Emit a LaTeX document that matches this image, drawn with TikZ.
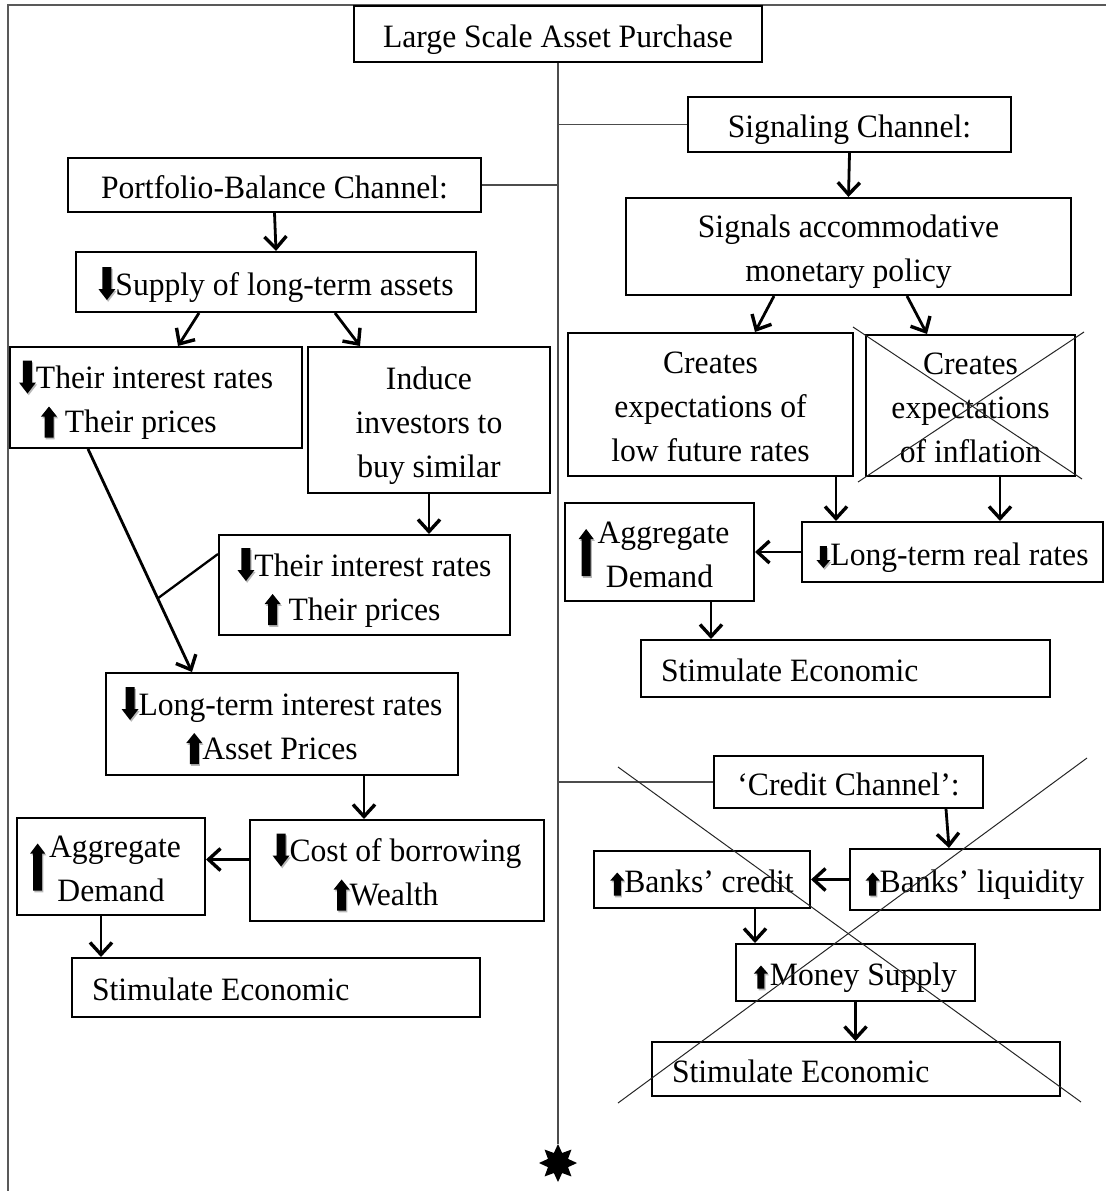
\documentclass[tikz,border=0pt]{standalone}
\usepackage{fontspec}
\setmainfont{Liberation Serif}[FakeStretch=0.97]
\usetikzlibrary{arrows.meta,calc,shapes.geometric}

\newcommand{\DnIcon}[5]{%
\tikz[baseline=0pt,x=1pt,y=1pt]{%
\path[use as bounding box] (-#4/2,#1) rectangle (#4/2,#2);
\fill[black!28,xshift=1.2pt,yshift=-1.8pt] (-#3/2,#2) -- (#3/2,#2) -- (#3/2,#1+#5) -- (#4/2,#1+#5) -- (0,#1) -- (-#4/2,#1+#5) -- (-#3/2,#1+#5) -- cycle;
\fill[black] (-#3/2,#2) -- (#3/2,#2) -- (#3/2,#1+#5) -- (#4/2,#1+#5) -- (0,#1) -- (-#4/2,#1+#5) -- (-#3/2,#1+#5) -- cycle;}}
\newcommand{\UpIcon}[5]{%
\tikz[baseline=0pt,x=1pt,y=1pt]{%
\path[use as bounding box] (-#4/2,#1) rectangle (#4/2,#2);
\fill[black!28,xshift=1.2pt,yshift=-1.8pt] (-#3/2,#1) -- (#3/2,#1) -- (#3/2,#2-#5) -- (#4/2,#2-#5) -- (0,#2) -- (-#4/2,#2-#5) -- (-#3/2,#2-#5) -- cycle;
\fill[black] (-#3/2,#1) -- (#3/2,#1) -- (#3/2,#2-#5) -- (#4/2,#2-#5) -- (0,#2) -- (-#4/2,#2-#5) -- (-#3/2,#2-#5) -- cycle;}}
\newcommand{\dnA}{\smash{\DnIcon{-5}{28}{9}{17}{11}}}
\newcommand{\upA}{\smash{\UpIcon{-5}{26}{9}{16}{10}}}
\newcommand{\dnS}{\smash{\DnIcon{-3}{19}{7}{14}{8}}}
\newcommand{\upS}{\smash{\UpIcon{-3}{20}{7}{14}{8}}}
\newcommand{\upB}{\smash{\UpIcon{-33}{14}{9}{15}{10}}}
\newcommand{\bxstrut}{\rule[-9pt]{0pt}{44pt}}

\tikzset{
  box/.style={draw, line width=2pt, inner sep=0pt, align=flush center,
    font=\fontsize{32.6}{44}\selectfont,
    execute at begin node=\bxstrut, execute at end node=\bxstrut},
  bx/.style 2 args={box, text width=#1, minimum width=#1, minimum height=#2},
  arr/.style={line width=2.8pt, -{Straight Barb[length=12pt,width=22pt,line width=3.4pt]}},
  plainln/.style={line width=2.3pt},
  spine/.style={line width=1.3pt, draw=black!70},
  frame/.style={line width=1.3pt, draw=black!65},
  xline/.style={line width=1pt, draw=black!85},
}

\begin{document}
\begin{tikzpicture}[x=1pt,y=-1pt]
\useasboundingbox (0,0) rectangle (1106,1191);
\draw[frame] (8,1191) -- (8,5) -- (1106,5);

% boxes
\node[bx={408pt}{56pt}] (large) at (558,34) {Large Scale Asset Purchase};
\node[bx={323pt}{55pt}] (sig) at (849.5,124.5) {Signaling Channel:};
\node[bx={413pt}{54pt}] (pb) at (274.5,185) {Portfolio-Balance Channel:};
\node[bx={400pt}{60pt}] (supply) at (276,282) {\dnA Supply of long-term assets};
\node[bx={445pt}{97pt}] (signals) at (848.5,246.5) {Signals accommodative\\monetary policy};
\node[box, minimum width=292pt, minimum height=101pt, text width=274pt, align=flush left] (tir1) at (156,397.5) {\dnA Their interest rates\\\hspace*{22pt}\upA\ Their prices};
\node[bx={242pt}{146pt}] (induce) at (429,420) {Induce\\investors to\\buy similar};
\node[bx={285pt}{143pt}] (clow) at (710.5,404.5) {Creates\\expectations of\\low future rates};
\node[bx={209pt}{141pt}] (cinf) at (970.5,405.5) {Creates\\expectations\\of inflation};
\node[bx={291pt}{100pt}] (tir2) at (364.5,585) {\dnA Their interest rates\\\upA\ Their prices\hspace*{24pt}};
\node[bx={189pt}{98pt}] (adr) at (659.5,552) {\hspace*{8pt}\llap{\upB\kern4pt}Aggregate\\Demand};
\node[bx={301pt}{60pt}] (ltrr) at (952.5,552) {\dnS Long-term real rates};
\node[box, minimum width=409pt, minimum height=57pt, text width=369pt, align=flush left] (stimr) at (845.5,668.5) {Stimulate Economic};
\node[bx={352pt}{102pt}] (lt) at (282,724) {\dnA Long-term interest rates\hspace*{12pt}\\\upA Asset Prices\hspace*{20pt}};
\node[bx={269pt}{52pt}] (credit) at (848.5,782) {‘Credit Channel’:};
\node[bx={294pt}{101pt}] (cost) at (397,870.5) {\dnA Cost of borrowing\\\upA Wealth\hspace*{22pt}};
\node[bx={188pt}{97pt}] (adl) at (111,866.5) {\hspace*{8pt}\llap{\upB\kern4pt}Aggregate\\Demand};
\node[bx={250pt}{61pt}] (bl) at (975,879.5) {\upS Banks’ liquidity};
\node[bx={216pt}{57pt}] (bc) at (702,879.5) {\upS Banks’ credit};
\node[bx={239pt}{57pt}] (ms) at (855.5,972.5) {\upS\kern2pt Money Supply};
\node[box, minimum width=408pt, minimum height=54pt, text width=368pt, align=flush left] (stimc) at (856,1069) {Stimulate Economic};
\node[box, minimum width=408pt, minimum height=59pt, text width=368pt, align=flush left] (stiml) at (276,987.5) {Stimulate Economic};
\node[star, star points=8, star point ratio=1.75, fill=black, inner sep=0pt, minimum size=38pt] (star) at (558,1163) {};

% spine and branches
\draw[spine] (large.south) -- (star.north);
\draw[spine] (sig.west) -- (sig.west -| large.south);
\draw[spine] (pb.east) -- (pb.east -| large.south);
\draw[spine] (credit.west) -- (credit.west -| large.south);

% left column arrows
\draw[arr] (pb.south) -- (supply.north);
\draw[arr] ($(supply.south west)+(124,0)$) -- ($(tir1.north west)+(169,0)$);
\draw[arr] ($(supply.south west)+(260,0)$) -- ($(induce.north west)+(53,0)$);
\draw[arr] (induce.south) -- (induce.south |- tir2.north);
\coordinate (la) at ($(tir1.south west)+(79,0)$);
\coordinate (lb) at ($(lt.north west)+(87,0)$);
\draw[arr] (la) -- (lb);
\coordinate (lc) at ($(la)!0.67!(lb)$);
\draw[plainln] ($(tir2.north west)+(0,20)$) -- (lc);
\coordinate (a1) at ($(lt.south west)+(259,0)$);
\draw[arr] (a1) -- (a1 |- cost.north);
\coordinate (a2) at ($(cost.west)+(0,-11)$);
\draw[arr] (a2) -- (a2 -| adl.east);
\coordinate (a3) at ($(adl.south west)+(85,0)$);
\draw[arr] (a3) -- (a3 |- stiml.north);

% signaling arrows
\draw[arr] (sig.south) -- (signals.north);
\draw[arr] ($(signals.south west)+(149,0)$) -- ($(clow.north west)+(188,0)$);
\draw[arr] ($(signals.south west)+(282,0)$) -- ($(cinf.north west)+(62,0)$);
\coordinate (a4) at ($(clow.south west)+(269,0)$);
\draw[arr] (a4) -- (a4 |- ltrr.north);
\coordinate (a5) at ($(cinf.south west)+(135,0)$);
\draw[arr] (a5) -- (a5 |- ltrr.north);
\draw[arr] (ltrr.west) -- (adr.east);
\coordinate (a6) at ($(adr.south west)+(147,0)$);
\draw[arr] (a6) -- (a6 |- stimr.north);

% credit arrows
\draw[arr] ($(credit.south west)+(233,0)$) -- ($(bl.north west)+(100,0)$);
\draw[arr] (bl.west) -- (bc.east);
\coordinate (a7) at ($(bc.south west)+(162,0)$);
\draw[arr] (a7) -- (a7 |- ms.north);
\draw[arr] (ms.south) -- (ms.south |- stimc.north);

% crossing-out lines
\draw[xline] (853,327) -- (1082,479);
\draw[xline] (858,482) -- (1084,332);
\draw[xline] (618,767) -- (1081,1102);
\draw[xline] (618,1103) -- (1087,758);
\end{tikzpicture}
\end{document}
